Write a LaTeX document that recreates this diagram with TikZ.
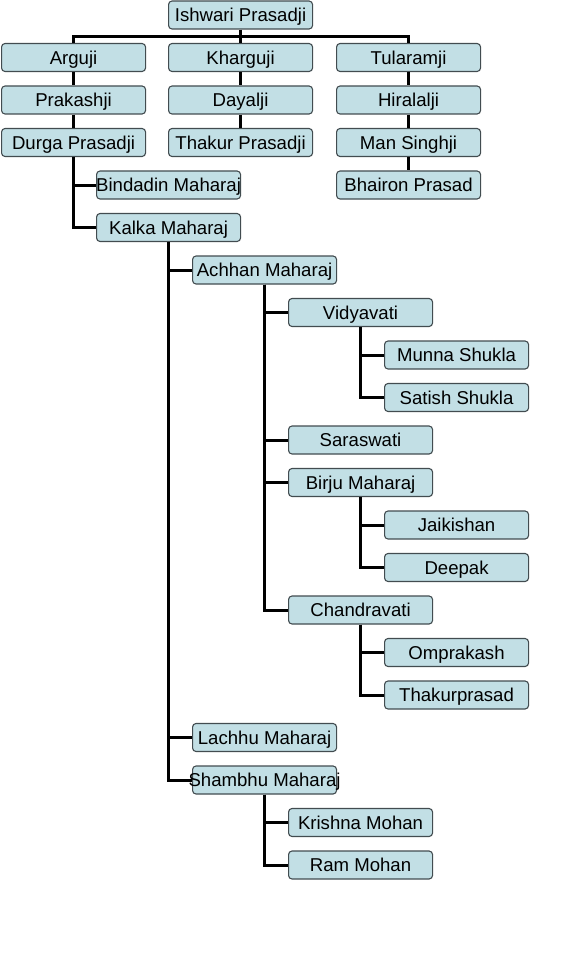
\documentclass[tikz,border=0pt]{standalone}
\usepackage{fontspec}
\setmainfont{Liberation Sans}
\usetikzlibrary{calc}
\definecolor{boxfill}{RGB}{194,223,229}
\definecolor{boxline}{RGB}{66,76,80}
\newcommand{\nm}[1]{\makebox[0pt][c]{#1}}
\begin{document}
\begin{tikzpicture}[x=1pt,y=-1pt,
  person/.style={draw=boxline,fill=boxfill,line width=1.1pt,rounded corners=3.5pt,
    minimum width=144pt,minimum height=28pt,inner sep=0pt,
    text height=13.4pt,text depth=0pt,
    font=\fontsize{18.6}{20}\selectfont,anchor=west},
  conn/.style={line width=3pt,black,line join=miter}]
\useasboundingbox (0,0) rectangle (576,960);
% row centres: 15 + 42.5*i
\node[person] (ish)   at (168,15)    {\nm{Ishwari Prasadji}};
\node[person] (arg)   at (1,57.5)    {\nm{Arguji}};
\node[person] (khar)  at (168,57.5)  {\nm{Kharguji}};
\node[person] (tul)   at (336,57.5)  {\nm{Tularamji}};
\node[person] (prak)  at (1,100)     {\nm{Prakashji}};
\node[person] (daya)  at (168,100)   {\nm{Dayalji}};
\node[person] (hira)  at (336,100)   {\nm{Hiralalji}};
\node[person] (durga) at (1,142.5)   {\nm{Durga Prasadji}};
\node[person] (thak)  at (168,142.5) {\nm{Thakur Prasadji}};
\node[person] (man)   at (336,142.5) {\nm{Man Singhji}};
\node[person] (bind)  at (96,185)    {\nm{Bindadin Maharaj}};
\node[person] (bhai)  at (336,185)   {\nm{Bhairon Prasad}};
\node[person] (kalka) at (96,227.5)  {\nm{Kalka Maharaj}};
\node[person] (achh)  at (192,270)   {\nm{Achhan Maharaj}};
\node[person] (vidya) at (288,312.5) {\nm{Vidyavati}};
\node[person] (munna) at (384,355)   {\nm{Munna Shukla}};
\node[person] (sati)  at (384,397.5) {\nm{Satish Shukla}};
\node[person] (saras) at (288,440)   {\nm{Saraswati}};
\node[person] (birju) at (288,482.5) {\nm{Birju Maharaj}};
\node[person] (jaik)  at (384,525)   {\nm{Jaikishan}};
\node[person] (deep)  at (384,567.5) {\nm{Deepak}};
\node[person] (chan)  at (288,610)   {\nm{Chandravati}};
\node[person] (ompr)  at (384,652.5) {\nm{Omprakash}};
\node[person] (thkp)  at (384,695)   {\nm{Thakurprasad}};
\node[person] (lach)  at (192,737.5) {\nm{Lachhu Maharaj}};
\node[person] (shamb) at (192,780)   {\nm{Shambhu Maharaj}};
\node[person] (krish) at (288,822.5) {\nm{Krishna Mohan}};
\node[person] (ramm)  at (288,865)   {\nm{Ram Mohan}};
% connectors
\coordinate (bus) at ($(ish.south)!.5!(khar.north)$);
\draw[conn] (ish.south) -- (khar.north);
\draw[conn] (arg.north) |- (bus) -| (tul.north);
\draw[conn] (arg.south) -- (prak.north);
\draw[conn] (prak.south) -- (durga.north);
\draw[conn] (khar.south) -- (daya.north);
\draw[conn] (daya.south) -- (thak.north);
\draw[conn] (tul.south) -- (hira.north);
\draw[conn] (hira.south) -- (man.north);
\draw[conn] (man.south) -- (bhai.north);
\draw[conn] (durga.south) |- (bind.west);
\draw[conn] (durga.south) |- (kalka.west);
\draw[conn] (kalka.south) |- (achh.west);
\draw[conn] (kalka.south) |- (lach.west);
\draw[conn] (kalka.south) |- (shamb.west);
\draw[conn] (achh.south) |- (vidya.west);
\draw[conn] (achh.south) |- (saras.west);
\draw[conn] (achh.south) |- (birju.west);
\draw[conn] (achh.south) |- (chan.west);
\draw[conn] (vidya.south) |- (munna.west);
\draw[conn] (vidya.south) |- (sati.west);
\draw[conn] (birju.south) |- (jaik.west);
\draw[conn] (birju.south) |- (deep.west);
\draw[conn] (chan.south) |- (ompr.west);
\draw[conn] (chan.south) |- (thkp.west);
\draw[conn] (shamb.south) |- (krish.west);
\draw[conn] (shamb.south) |- (ramm.west);
\end{tikzpicture}
\end{document}
